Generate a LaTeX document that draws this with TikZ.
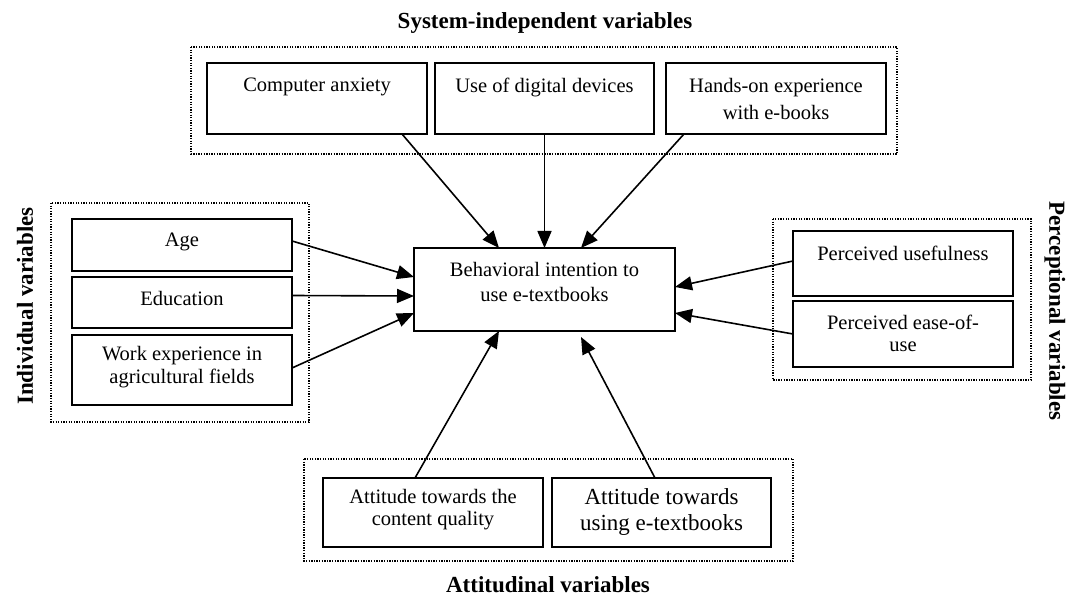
\documentclass[tikz,border=0pt]{standalone}
\usepackage{fontspec}
\setmainfont{Liberation Serif}
\usetikzlibrary{arrows.meta,calc}
\begin{document}
\begin{tikzpicture}[x=1pt,y=-1pt,
  box/.style={draw, line width=1.7pt, minimum width=220pt, inner sep=0pt, outer sep=0pt},
  txt/.style={align=center, inner sep=0pt, font=\fontsize{20.5}{24}\selectfont},
  grp/.style={draw, line width=1.3pt, dash pattern=on 1.3pt off 1.3pt},
  ttl/.style={font=\bfseries\fontsize{23}{27}\selectfont, inner sep=0pt},
  arr/.style={line width=1.6pt, -{Triangle[length=17pt,width=14pt]}}]
\useasboundingbox (0,0) rectangle (1069,596);

% group frames
\draw[grp] (191,47) rectangle (897,154);
\draw[grp] (51,203) rectangle (309,422);
\draw[grp] (773,219) rectangle (1031,380);
\draw[grp] (304,459) rectangle (793,561);

% titles
\node[ttl] (tsys) at (545,23) {System-independent variables};
\node[ttl, rotate=90] (tind) at (25,306) {Individual variables};
\node[ttl, rotate=-90] (tper) at (1055,311) {Perceptional variables};
\node[ttl] (tatt) at (548,585) {Attitudinal variables};

% central box
\node[box, minimum width=261pt, minimum height=83pt] (beh) at (544.5,289.5) {};
\node[txt, font=\fontsize{20.5}{25}\selectfont] (behT) at (544.5,281.5) {Behavioral intention to\\use e-textbooks};

% top boxes
\node[box, minimum height=71pt] (ca) at (317,98.5) {};
\node[txt] (caT) at (317,87) {Computer anxiety};
\node[box, minimum width=219pt, minimum height=71pt] (ud) at (544.5,98.5) {};
\node[txt] (udT) at (544.5,87) {Use of digital devices};
\node[box, minimum height=71pt] (ho) at (776,98.5) {};
\node[txt, font=\fontsize{20.5}{27}\selectfont] (hoT) at (776,98.5) {Hands-on experience\\with e-books};

% left boxes
\node[box, minimum height=52pt] (age) at (182,245) {};
\node[txt] (ageT) at (182,242) {Age};
\node[box, minimum height=51pt] (edu) at (182,302.5) {};
\node[txt] (eduT) at (182,298) {Education};
\node[box, minimum height=70pt] (work) at (182,370) {};
\node[txt, font=\fontsize{20.5}{23}\selectfont] (workT) at (182,367.5) {Work experience in\\agricultural fields};

% right boxes
\node[box, minimum height=65pt] (pu) at (903,263.5) {};
\node[txt] (puT) at (903,253) {Perceived usefulness};
\node[box, minimum height=66pt] (pe) at (903,334) {};
\node[txt, font=\fontsize{20.5}{22}\selectfont] (peT) at (903,333) {Perceived ease-of-\\use};

% bottom boxes
\node[box, minimum height=69pt] (ac) at (433,512.5) {};
\node[txt, font=\fontsize{20.5}{22}\selectfont] (acT) at (433,509.5) {Attitude towards the\\content quality};
\node[box, minimum width=219pt, minimum height=69pt] (au) at (661.5,512.5) {};
\node[txt, font=\fontsize{23}{26}\selectfont] (auT) at (661.5,512) {Attitude towards\\using e-textbooks};

% connectors
\draw[arr] ($(ca.south west)+(195,0)$) -- ($(beh.north west)+(85,0)$);
\draw[arr] (ud.south) -- (beh.north);
\draw[arr] ($(ho.south west)+(18,0)$) -- ($(beh.north west)+(167,0)$);
\draw[arr] ($(age.east)+(0,-4)$) -- ($(beh.west)+(0,-12.5)$);
\draw[arr] ($(edu.east)+(0,-7)$) -- ($(beh.west)+(0,6.5)$);
\draw[arr] ($(work.east)+(0,-2)$) -- ($(beh.west)+(0,23.5)$);
\draw[arr] ($(pu.west)+(0,-2.5)$) -- ($(beh.east)+(0,-2.5)$);
\draw[arr] (pe.west) -- ($(beh.east)+(0,23.5)$);
\draw[arr] ($(ac.north west)+(92,0)$) -- ($(beh.south west)+(85,0)$);
\draw[arr] ($(au.north west)+(103,0)$) -- ($(beh.south west)+(167,6)$);
\end{tikzpicture}
\end{document}
